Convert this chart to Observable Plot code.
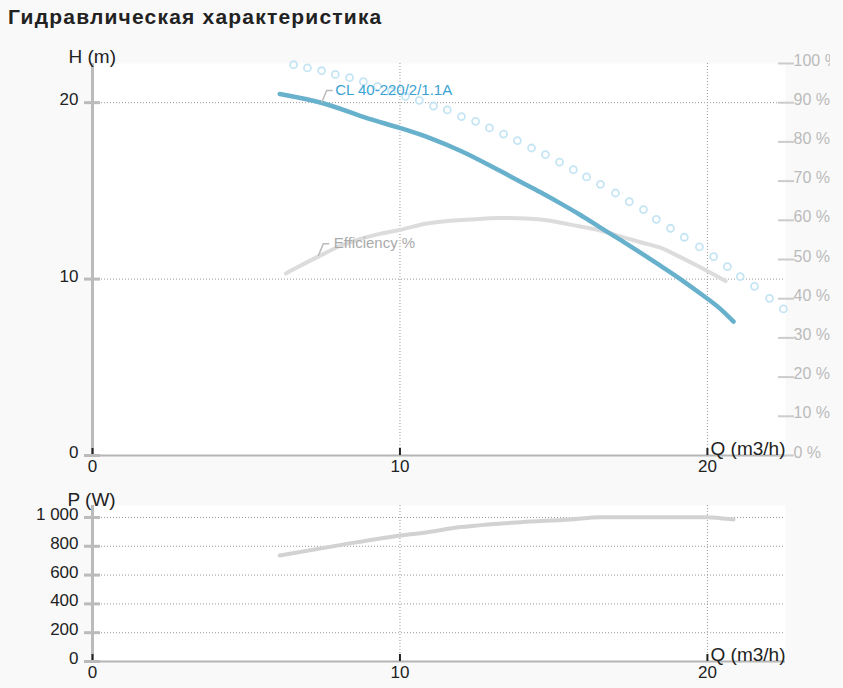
<!DOCTYPE html>
<html>
<head>
<meta charset="utf-8">
<script src="https://cdn.jsdelivr.net/npm/d3@7"></script>
<script src="https://cdn.jsdelivr.net/npm/@observablehq/plot@0.6"></script>
<style>
  body { margin: 0; background: #f9f9f9; font-family: "Liberation Sans", Arial, sans-serif; color: #222; }
  h2 { margin: 0; padding-left: 8px; height: 35px; line-height: 33px; font-size: 21px; font-weight: bold; letter-spacing: 1.2px; }
  #chart svg { display: block; }
</style>
</head>
<body>
<h2>Гидравлическая характеристика</h2>
<div id="chart"></div>
<script>
// Q-H кривая насоса
const pumpQ = [6.09, 7.47, 9.0, 9.99, 11.0, 12.0, 13.27, 13.92, 14.57, 15.22, 15.87, 16.52, 17.17, 17.82, 18.47, 19.12, 19.77, 20.42, 20.85]
const pumpH = [20.49, 19.98, 19.08, 18.57, 17.98, 17.25, 16.12, 15.52, 14.92, 14.29, 13.63, 12.92, 12.22, 11.5, 10.76, 10.0, 9.18, 8.31, 7.59]

// пунктирная кривая (кружки)
const dotQ = [6.54, 6.99, 7.45, 7.90, 8.36, 8.81, 9.27, 9.72, 10.18, 10.63, 11.09, 11.54, 12.00, 12.46, 12.91, 13.37, 13.82, 14.28,
  14.73, 15.19, 15.64, 16.07, 16.52, 17.01, 17.46, 17.92, 18.34, 18.80, 19.25, 19.74, 20.20, 20.65, 21.07, 21.53, 22.02, 22.47]
const dotH = [22.15, 21.97, 21.81, 21.60, 21.42, 21.19, 20.92, 20.65, 20.36, 20.13, 19.81, 19.59, 19.21, 18.94, 18.57, 18.22, 17.85, 17.43,
  17.05, 16.63, 16.20, 15.79, 15.37, 14.88, 14.39, 13.94, 13.39, 12.88, 12.37, 11.82, 11.27, 10.71, 10.14, 9.59, 8.91, 8.31]

// КПД, %
const effQ = [6.29, 6.66, 7.36, 8.07, 9.37, 10.02, 10.83, 12.29, 13.27, 14.24, 14.89, 15.54, 16.52, 17.17, 17.82, 18.47, 19.12, 19.77, 20.59]
const effPct = [46.4, 48.0, 50.8, 53.5, 56.6, 57.6, 59.1, 60.2, 60.6, 60.4, 59.9, 58.9, 57.4, 55.9, 54.4, 53.0, 50.6, 48.0, 44.5]

// мощность, W
const powerQ = [6.09, 8.0, 10.02, 10.67, 11.97, 13.92, 15.54, 16.52, 19.99, 20.42, 20.85]
const powerW = [736, 806, 875, 891, 933, 967, 986, 1002, 1002, 995, 986]

const xTicks = [0, 10, 20]
const hTicks = [0, 10, 20]
const pctTicks = [0, 10, 20, 30, 40, 50, 60, 70, 80, 90, 100]
const pTicks = [0, 200, 400, 600, 800, 1000]

const pumpName = 'CL 40-220/2/1.1A'
const effName = 'Efficiency %'

const X_MAX = 22.54
const H_MAX = 22.22
const P_MAX = 1083

const pump = pumpQ.map((q, i) => ({q, h: pumpH[i]}))
const dots = dotQ.map((q, i) => ({q, h: dotH[i]}))
const eff = effQ.map((q, i) => ({q, pct: effPct[i]}))
const power = powerQ.map((q, i) => ({q, w: powerW[i]}))

const pumpAnchor = pump[1]
const effAnchor = eff[2]

const grid = {stroke: '#999', strokeOpacity: 1, strokeDasharray: '1,2'}
const fmtThousands = v => d3.format(',')(v).replace(/,/g, ' ')

let chartH = Plot.plot({
  width: 830, height: 445,
  marginTop: 28, marginBottom: 25, marginLeft: 92, marginRight: 45,
  style: {background: 'transparent', fontFamily: '"Liberation Sans", Arial, sans-serif', fontSize: '16px'},
  x: {domain: [0, X_MAX], axis: null},
  y: {domain: [0, H_MAX], axis: null},
  marks: [
    Plot.frame({fill: 'white', stroke: 'none'}),
    Plot.gridX([10, 20], grid),
    Plot.gridY([10, 20], grid),
    Plot.line(eff, {x: 'q', y: d => d.pct * H_MAX / 100, curve: 'monotone-x', stroke: '#dcdcdc', strokeWidth: 4}),
    Plot.dot(dots, {x: 'q', y: 'h', r: 3.5, stroke: '#c6e5f4', strokeWidth: 1.8, fill: 'white'}),
    Plot.line(pump, {x: 'q', y: 'h', curve: 'monotone-x', stroke: '#68b1cd', strokeWidth: 4.5}),
    Plot.ruleX([0], {stroke: '#bbb', strokeWidth: 3}),
    Plot.ruleY([0], {stroke: '#b5b5b5', strokeWidth: 2}),
    Plot.ruleX(xTicks, {stroke: '#222', strokeWidth: 2, insetTop: 385}),
    Plot.axisX(xTicks, {tickSize: 0, tickPadding: 4, fill: '#222', fontSize: 17, label: null}),
    Plot.axisY(hTicks, {tickSize: 16, dx: 8, fill: 'none', stroke: '#bbb', strokeWidth: 3, label: null}),
    Plot.axisY(hTicks, {tickSize: 16, dx: 8, dy: -3, tickPadding: 6, stroke: 'none', fill: '#222', fontSize: 17, label: null}),
    Plot.axisY(pctTicks.map(p => p * H_MAX / 100), {anchor: 'right', tickSize: 16, dx: -8, fill: 'none', stroke: '#ccc', strokeWidth: 2, label: null}),
    Plot.axisY(pctTicks.map(p => p * H_MAX / 100), {anchor: 'right', tickSize: 16, dx: -8, dy: -3, tickPadding: 0, stroke: 'none', fill: '#bbb', fontSize: 16, label: null,
      tickFormat: v => Math.round(v / H_MAX * 100) + ' %'}),
    Plot.text(['H (m)'], {frameAnchor: 'top-left', textAnchor: 'start', lineAnchor: 'bottom', dx: -24, dy: -1, fill: '#222', fontSize: 19}),
    Plot.text(['Q (m3/h)'], {frameAnchor: 'bottom-right', textAnchor: 'end', lineAnchor: 'bottom', dy: -1, fill: '#222', fontSize: 19}),
    Plot.text([pumpAnchor], {x: 'q', y: 'h', text: () => pumpName, textAnchor: 'start', dx: 13, dy: -13, fill: '#3aa2d2', fontSize: 15}),
    Plot.text([effAnchor], {x: 'q', y: d => d.pct * H_MAX / 100, text: () => effName, textAnchor: 'start', dx: 15, dy: -13, fill: '#aaa', fontSize: 15}),
  ],
})

// выноски к подписям
const sx = chartH.scale('x'), sy = chartH.scale('y')
const leader = (px, py) => `M${px},${py}L${px + 5},${py - 12}L${px + 11},${py - 12}`
d3.select(chartH).append('path')
  .attr('d', leader(sx.apply(pumpAnchor.q), sy.apply(pumpAnchor.h)))
  .attr('fill', 'none').attr('stroke', '#bbb').attr('stroke-width', 1.5)
d3.select(chartH).append('path')
  .attr('d', leader(sx.apply(effAnchor.q), sy.apply(effAnchor.pct * H_MAX / 100)))
  .attr('fill', 'none').attr('stroke', '#bbb').attr('stroke-width', 1.5)

let chartP = Plot.plot({
  width: 830, height: 208,
  marginTop: 25, marginBottom: 27, marginLeft: 92, marginRight: 45,
  style: {background: 'transparent', fontFamily: '"Liberation Sans", Arial, sans-serif', fontSize: '16px'},
  x: {domain: [0, X_MAX], axis: null},
  y: {domain: [0, P_MAX], axis: null},
  marks: [
    Plot.frame({fill: 'white', stroke: 'none'}),
    Plot.gridX([10, 20], grid),
    Plot.gridY(pTicks.slice(1), grid),
    Plot.line(power, {x: 'q', y: 'w', curve: 'monotone-x', stroke: '#d2d2d2', strokeWidth: 4}),
    Plot.ruleX([0], {stroke: '#bbb', strokeWidth: 3}),
    Plot.ruleY([0], {stroke: '#b5b5b5', strokeWidth: 2}),
    Plot.ruleX(xTicks, {stroke: '#222', strokeWidth: 2, insetTop: 149}),
    Plot.axisX(xTicks, {tickSize: 0, tickPadding: 4, fill: '#222', fontSize: 17, label: null}),
    Plot.axisY(pTicks, {tickSize: 16, dx: 8, fill: 'none', stroke: '#bbb', strokeWidth: 3, label: null}),
    Plot.axisY(pTicks, {tickSize: 16, dx: 8, dy: -3, tickPadding: 6, stroke: 'none', fill: '#222', fontSize: 17, label: null, tickFormat: fmtThousands}),
    Plot.text(['P (W)'], {frameAnchor: 'top-left', textAnchor: 'start', lineAnchor: 'bottom', dx: -25, dy: 0, fill: '#222', fontSize: 19}),
    Plot.text(['Q (m3/h)'], {frameAnchor: 'bottom-right', textAnchor: 'end', lineAnchor: 'bottom', dy: -1, fill: '#222', fontSize: 19}),
  ],
})

d3.select('#chart').append(() => chartH)
d3.select('#chart').append(() => chartP)
</script>
</body>
</html>
